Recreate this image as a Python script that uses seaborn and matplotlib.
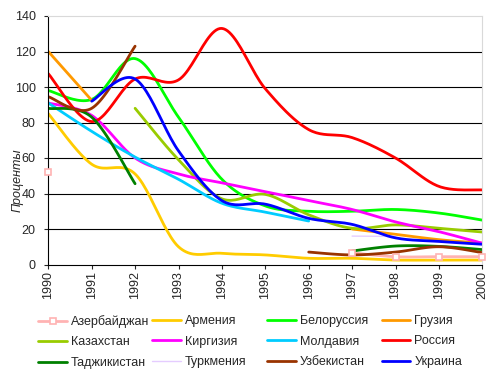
import numpy as np
import matplotlib
matplotlib.use("Agg")
import matplotlib.pyplot as plt
from matplotlib.lines import Line2D
import seaborn as sns

nan = np.nan

# ----------------------------------------------------------------------------
# Data (percent, 1990 = reference)
# ----------------------------------------------------------------------------
years = list(range(1990, 2001))

names = ["Азербайджан", "Армения", "Белоруссия", "Грузия",
         "Казахстан", "Киргизия", "Молдавия", "Россия",
         "Таджикистан", "Туркмения", "Узбекистан", "Украина"]

azerbaijan   = [52, nan, nan, nan, nan, nan, nan, 6.6, 4.4, 4.4, 4.4]
armenia      = [85, 56.5, 51, 10, 6.3, 5.4, 3.5, 3.5, 2.5, 2.5, 2.5]
belarus      = [98, 93, 116, 83, 48, 33, 30, 30, 31, 29, 25]
georgia      = [120, 92.5, nan, nan, nan, nan, nan, 20, 17, 14, 12]
kazakhstan   = [nan, nan, 88, 59, 37, 39.5, 28, 20.4, 22.3, 20.4, 18.3]
kyrgyzstan   = [91, 84, 60, 51, 46, 41, 36, 31, 24, 18.5, 12]
moldova      = [91, 75, 60.5, 48, 34.5, 29.5, 24.5, nan, nan, nan, nan]
russia       = [107.5, 80.5, 104.5, 104, 133, 99, 76, 71.5, 60, 44, 42]
tajikistan   = [88, 83, 45.5, nan, nan, nan, nan, 7.6, 10.4, 10.2, 8.4]
turkmenistan = [nan, nan, nan, nan, nan, nan, nan, 16, 15.8, nan, nan]
uzbekistan   = [94.5, 88, 123, nan, nan, nan, 7, 5.4, 7, 10, 6.7]
ukraine      = [nan, 92, 104.5, 64, 36, 34, 26, 22.6, 15, 13, 11.4]

series = [azerbaijan, armenia, belarus, georgia, kazakhstan, kyrgyzstan,
          moldova, russia, tajikistan, turkmenistan, uzbekistan, ukraine]

colors = ["#FFB3B3", "#FFCC00", "#00FF00", "#FF9900",
          "#99CC00", "#FF00FF", "#00CCFF", "#FF0000",
          "#008000", "#E5CCFF", "#993300", "#0000FF"]


#================================================================================================
# Excel-like smoothed line (cubic Bezier through the yearly points)
#================================================================================================

def smooth_runs(xs, ys, n=24):
    xs = np.asarray(xs, float)
    ys = np.asarray(ys, float)
    ok = ~np.isnan(ys)
    runs, cur = [], []
    for i in range(len(xs)):
        if ok[i]:
            cur.append(i)
        elif cur:
            runs.append(cur)
            cur = []
    if cur:
        runs.append(cur)

    out = []
    t = np.linspace(0, 1, n)[:, None]
    for r in runs:
        if len(r) < 2:
            continue
        P = np.column_stack([xs[r], ys[r]])
        m = len(P)
        pts = []
        for i in range(m - 1):
            p0 = P[max(i - 1, 0)]
            p1 = P[i]
            p2 = P[i + 1]
            p3 = P[min(i + 2, m - 1)]
            c1 = p1 + (p2 - p0) / 6
            c2 = p2 - (p3 - p1) / 6
            b = ((1 - t) ** 3) * p1 + 3 * ((1 - t) ** 2) * t * c1 \
                + 3 * (1 - t) * t ** 2 * c2 + t ** 3 * p2
            pts.append(b if i == 0 else b[1:])
        pts = np.vstack(pts)
        out.append((pts[:, 0], pts[:, 1]))
    return out


#================================================================================================
# Figure
#================================================================================================

sns.set_style("white")
plt.rcParams['font.family'] = ['Liberation Sans', 'DejaVu Sans']
plt.rcParams['font.size'] = 9

fig = plt.figure(figsize=(4.98, 3.82), dpi=100)
ax = fig.add_axes([48.3 / 498, 1 - 264.5 / 382, 434 / 498, 248.5 / 382])

# horizontal grid lines
for g in [20, 40, 60, 80, 100, 120]:
    ax.axhline(g, color='black', lw=0.8, zorder=0)

handles = []
for name, vals, col in zip(names, series, colors):
    lw = 1.0 if name == "Туркмения" else 2.0
    for bx, by in smooth_runs(years, vals):
        sns.lineplot(x=bx, y=by, ax=ax, color=col, lw=lw, sort=False,
                     estimator=None, legend=False)
    if name == "Азербайджан":
        ax.plot(years, vals, ls='none', marker='s', ms=5, mfc='white',
                mec=col, mew=1.2, zorder=5, clip_on=False)
        handles.append(Line2D([], [], color=col, lw=2.0, marker='s', ms=5,
                              mfc='white', mec=col, mew=1.2))
    else:
        handles.append(Line2D([], [], color=col, lw=lw))

ax.set_xlim(1990, 2000)
ax.set_ylim(0, 140)
ax.set_xticks(years)
ax.set_xticklabels([str(y) for y in years], rotation=90, fontsize=9)
ax.set_yticks(range(0, 141, 20))
ax.tick_params(axis='y', direction='out', length=3, width=0.8, pad=6, labelsize=9)
ax.tick_params(axis='x', direction='out', length=3, width=0.8, pad=2, labelsize=9)
ax.tick_params(left=True, bottom=True)

for s in ['left', 'bottom']:
    ax.spines[s].set_color('black')
    ax.spines[s].set_linewidth(0.8)
for s in ['top', 'right']:
    ax.spines[s].set_color('#D9D9D9')
    ax.spines[s].set_linewidth(0.8)

ax.set_xlabel('')
ax.set_ylabel('Проценты', fontstyle='italic', fontsize=9)
ax.yaxis.set_label_coords(-0.058, 0.34)

# legend: 4 columns of 3 rows, filled row by row
col_x = [38.3, 152.3, 267.3, 381.7]
for c in range(4):
    idx = [c, c + 4, c + 8]
    fig.legend([handles[i] for i in idx], [names[i] for i in idx],
               loc='upper left', bbox_to_anchor=(col_x[c] / 498, 1 - 315 / 382),
               frameon=False, fontsize=9, handlelength=2.3, handletextpad=0.3,
               borderpad=0, borderaxespad=0, labelspacing=0.68)

plt.savefig('out.png', dpi=100)
plt.close()
